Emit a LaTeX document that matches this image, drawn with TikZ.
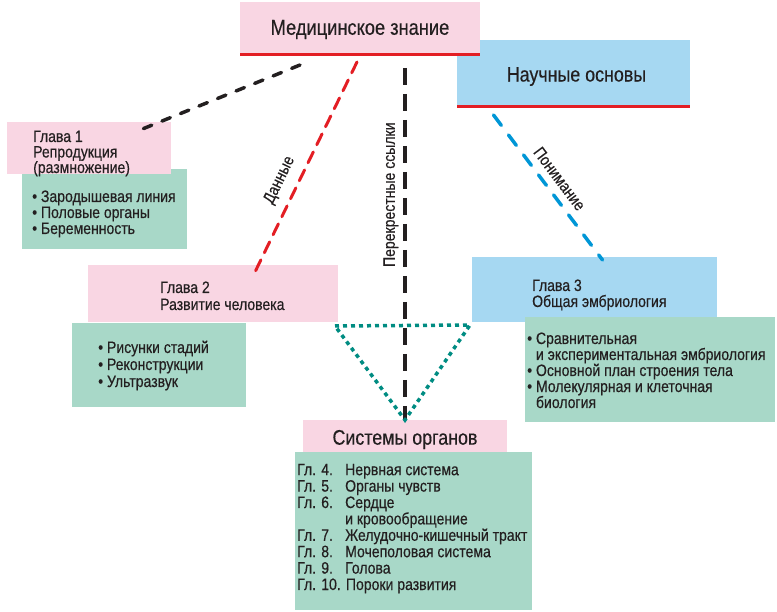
\documentclass[tikz,border=0pt]{standalone}
\usepackage{fontspec}
\setmainfont{Liberation Sans}[FakeStretch=0.85,FakeBold=0.4]
\usetikzlibrary{calc}
\definecolor{rosa}{RGB}{249,214,227}
\definecolor{himmel}{RGB}{166,216,242}
\definecolor{minze}{RGB}{168,216,200}
\definecolor{rotlinie}{RGB}{227,30,36}
\definecolor{blaulinie}{RGB}{0,150,214}
\definecolor{gruenlinie}{RGB}{0,140,130}
\definecolor{schrift}{RGB}{35,31,32}

\begin{document}
\begin{tikzpicture}[x=1pt,y=-1pt,
  box/.style={inner sep=0,outer sep=0,anchor=north west},
  pinkbox/.style={box,fill=rosa},
  bluebox/.style={box,fill=himmel},
  greenbox/.style={box,fill=minze},
  txt/.style={anchor=base west,align=left,inner sep=0,text=schrift,font=\fontsize{16.5}{16}\selectfont},
  head/.style={inner sep=0,text=schrift,font=\fontsize{21.5}{24}\selectfont},
  lbl/.style={inner sep=0,text=schrift,font=\fontsize{16.5}{17}\selectfont},
  underline/.style={rotlinie,line width=3},
  blackdash/.style={schrift,line width=3.5,line cap=round,dash pattern=on 9 off 11},
  longdash/.style={schrift,line width=3.5,dash pattern=on 17 off 9},
  reddash/.style={rotlinie,line width=3,line cap=round,dash pattern=on 12 off 8},
  bluedash/.style={blaulinie,line width=3.5,line cap=round,dash pattern=on 13 off 12},
  greendot/.style={gruenlinie,line width=3.5,dash pattern=on 4 off 4}]
\useasboundingbox (0,0) rectangle (777,612);

% kaesten
\node[bluebox,minimum width=233,minimum height=67] (nauch) at (457,40) {};
\node[pinkbox,minimum width=240,minimum height=53] (med) at (240,2) {};
\node[greenbox,minimum width=165,minimum height=80] (sp1) at (22,169) {};
\node[pinkbox,minimum width=164,minimum height=52] (gl1) at (7,122) {};
\node[greenbox,minimum width=174,minimum height=84] (sp2) at (72,323) {};
\node[pinkbox,minimum width=250,minimum height=57] (gl2) at (88,265) {};
\node[bluebox,minimum width=245,minimum height=65] (gl3) at (472,257) {};
\node[greenbox,minimum width=250,minimum height=105] (sp3) at (525,317) {};
\node[pinkbox,minimum width=204,minimum height=35] (sys) at (303,420) {};
\node[greenbox,minimum width=237,minimum height=158] (sp4) at (295,452) {};
\draw[underline] (med.south west) -- (med.south east);
\draw[underline] (nauch.south west) -- (nauch.south east);

% verbindungen
\draw[blackdash] ($(med.south)+(-60,10)$) -- ($(gl1.north east)+(-31,8)$);
\draw[reddash] ($(med.south)+(-3,7)$) -- node[lbl,sloped,above=9pt,pos=.6] {Данные} ($(gl2.north)+(42,7)$);
\draw[longdash] ($(med.south)+(45,13)$) -- node[lbl,rotate=90,anchor=south,inner ysep=5pt,pos=.36] {Перекрестные ссылки} (sys.north);
\draw[bluedash] ($(nauch.south)+(-80,8)$) -- node[lbl,sloped,above=7pt,pos=.5] {Понимание} ($(gl3.north)+(8,3)$);
\draw[greendot] ($(gl2.south east)+(-3,4)$) -- ($(gl3.south west)+(-2,3)$) -- (sys.north) -- cycle;

% texte
\node[head] (medtxt) at ($(med.center)+(0,1)$) {Медицинское знание};
\node[head,font=\fontsize{21}{24}\selectfont] (nauchtxt) at ($(nauch.center)+(3,3)$) {Научные основы};
\node[txt,font=\fontsize{16.5}{15.5}\selectfont] (gl1txt) at ($(gl1.north west)+(26,51)$) {Глава 1\\Репродукция\\(размножение)};
\node[txt] (sp1txt) at ($(sp1.north west)+(10,65)$) {\textbullet\ Зародышевая линия\\\textbullet\ Половые органы\\\textbullet\ Беременность};
\node[txt,font=\fontsize{16.5}{17}\selectfont] (gl2txt) at ($(gl2.north west)+(72,45)$) {Глава 2\\Развитие человека};
\node[txt,font=\fontsize{16.5}{17}\selectfont] (sp2txt) at ($(sp2.north west)+(26,64)$) {\textbullet\ Рисунки стадий\\\textbullet\ Реконструкции\\\textbullet\ Ультразвук};
\node[txt] (gl3txt) at ($(gl3.north west)+(60,50)$) {Глава 3\\Общая эмбриология};
\node[txt] (sp3txt) at ($(sp3.north west)+(2,91)$) {\textbullet\ Сравнительная\\\phantom{\textbullet\ }и экспериментальная эмбриология\\\textbullet\ Основной план строения тела\\\textbullet\ Молекулярная и клеточная\\\phantom{\textbullet\ }биология};
\node[head,font=\fontsize{21}{22}\selectfont] (systxt) at ($(sys.center)+(0,2)$) {Системы органов};
\node[txt,font=\fontsize{16.5}{16.4}\selectfont] (sp4txt) at ($(sp4.north west)+(2,138)$) {\makebox[48pt][l]{Гл. 4.}Нервная система\\\makebox[48pt][l]{Гл. 5.}Органы чувств\\\makebox[48pt][l]{Гл. 6.}Сердце\\\makebox[48pt][l]{}и кровообращение\\\makebox[48pt][l]{Гл. 7.}Желудочно-кишечный тракт\\\makebox[48pt][l]{Гл. 8.}Мочеполовая система\\\makebox[48pt][l]{Гл. 9.}Голова\\Гл. 10. Пороки развития};
\end{tikzpicture}
\end{document}
